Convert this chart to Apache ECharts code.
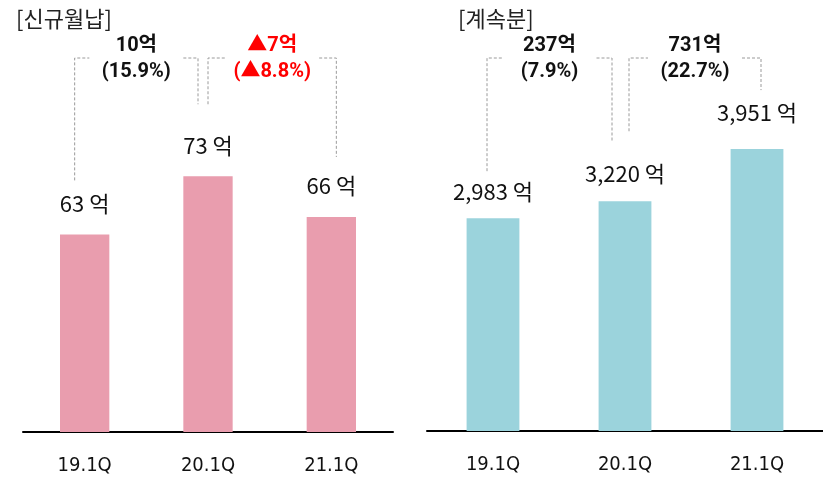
<!DOCTYPE html>
<html>
<head>
<meta charset="utf-8">
<script src="https://cdn.jsdelivr.net/npm/echarts@6/dist/echarts.min.js"></script>
<style>
  html, body { margin: 0; padding: 0; background: #fff; }
  #main { width: 823px; height: 481px; }
</style>
</head>
<body>
<div id="main"></div>
<script>
  // 데이터
  const quarters = ['19.1Q', '20.1Q', '21.1Q'];
  const newMonthly = [63, 73, 66];          // 신규월납 (억)
  const renewal = [2983, 3220, 3951];       // 계속분 (억)
  const newDiffAmt = ['10억', '▲7억'];
  const newDiffPct = ['(15.9%)', '(▲8.8%)'];
  const renewDiffAmt = ['237억', '731억'];
  const renewDiffPct = ['(7.9%)', '(22.7%)'];

  const KR = '"Noto Sans CJK KR", "Noto Sans", sans-serif';
  const fmt = v => v.toLocaleString('en-US') + ' 억';

  const chart = echarts.init(document.getElementById('main'));

  function xAxis(gridIndex) {
    return {
      type: 'category',
      gridIndex: gridIndex,
      data: quarters,
      axisTick: { show: false },
      axisLine: { lineStyle: { color: '#000', width: 2 } },
      axisLabel: {
        margin: 24,
        fontSize: 20,
        color: '#111',
        fontFamily: '"Liberation Sans Narrow", "DejaVu Sans Condensed", sans-serif'
      }
    };
  }

  function yAxis(gridIndex, min, max) {
    return {
      type: 'value',
      gridIndex: gridIndex,
      min: min,
      max: max,
      show: false,
      splitLine: { show: false }
    };
  }

  function barSeries(idx, values, color, gaps) {
    return {
      type: 'bar',
      xAxisIndex: idx,
      yAxisIndex: idx,
      barWidth: '40%',
      itemStyle: { color: color },
      label: {
        show: true,
        position: 'top',
        fontSize: 22,
        color: '#111',
        fontFamily: KR,
        formatter: p => fmt(p.value)
      },
      data: values.map((v, i) => ({ value: v, label: { distance: gaps[i] } }))
    };
  }

  const option = {
    backgroundColor: '#fff',
    animation: false,
    title: [
      { text: '[신규월납]', left: 11, top: 3, textStyle: { fontSize: 22, fontWeight: 'normal', color: '#222', fontFamily: KR } },
      { text: '[계속분]', left: 453, top: 3, textStyle: { fontSize: 22, fontWeight: 'normal', color: '#222', fontFamily: KR } }
    ],
    grid: [
      { left: 23, width: 370, top: 60, bottom: 49 },
      { left: 427, right: -4, top: 60, bottom: 50 }
    ],
    xAxis: [xAxis(0), xAxis(1)],
    yAxis: [yAxis(0, 29, 93), yAxis(1, 0, 5200)],
    series: [
      barSeries(0, newMonthly, '#E99DAE', [20, 20, 20]),
      barSeries(1, renewal, '#9BD3DC', [16, 17, 25])
    ]
  };

  chart.setOption(option);

  // 증감 괄호선 + 텍스트
  function bracket(gridIndex, values, from, to, dxFrom, dxTo, liftFrom, liftTo, amt, pct, color) {
    const p1 = chart.convertToPixel({ gridIndex: gridIndex }, [from, values[from]]);
    const p2 = chart.convertToPixel({ gridIndex: gridIndex }, [to, values[to]]);
    const xL = p1[0] + dxFrom, xR = p2[0] + dxTo;
    const top = 58, gap = 47;
    const mid = (xL + xR) / 2;
    const line = { stroke: '#9a9a9a', lineWidth: 1, lineDash: [3, 2], fill: null };
    const font = 'bold 20px Roboto, "Noto Sans CJK KR"';
    return [
      { type: 'polyline', shape: { points: [[xL, p1[1] - liftFrom], [xL, top], [mid - gap, top]] }, style: line, silent: true },
      { type: 'polyline', shape: { points: [[mid + gap, top], [xR, top], [xR, p2[1] - liftTo]] }, style: line, silent: true },
      { type: 'text', x: mid, y: 46, style: { text: amt, fill: color, font: font, align: 'center', verticalAlign: 'middle' } },
      { type: 'text', x: mid, y: 72, style: { text: pct, fill: color, font: font, align: 'center', verticalAlign: 'middle' } }
    ];
  }

  chart.setOption({
    graphic: [].concat(
      bracket(0, newMonthly, 0, 1, -10, -10, 54, 72, newDiffAmt[0], newDiffPct[0], '#111'),
      bracket(0, newMonthly, 1, 2, 0, 5, 72, 60, newDiffAmt[1], newDiffPct[1], '#FF0000'),
      bracket(1, renewal, 0, 1, -6, -13, 47, 60, renewDiffAmt[0], renewDiffPct[0], '#111'),
      bracket(1, renewal, 1, 2, 4, 4, 70, 59, renewDiffAmt[1], renewDiffPct[1], '#111')
    )
  });

  window.addEventListener('resize', function () {
    chart.resize();
  });
</script>
</body>
</html>
